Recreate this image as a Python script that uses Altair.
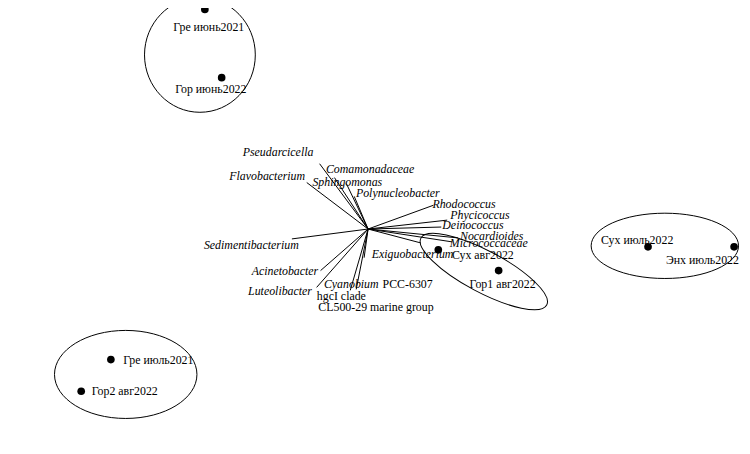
import altair as alt
import pandas as pd

# ---- sites (ordination scores) ----
site_names = ["Гре июнь2021", "Гор июнь2022", "Сух авг2022", "Гор1 авг2022",
              "Сух июль2022", "Энх июль2022", "Гре июль2021", "Гор2 авг2022"]
site_x = [-1.65, -1.48, 0.71, 1.32, 2.83, 3.70, -2.60, -2.90]
site_y = [2.22, 1.53, -0.21, -0.42, -0.18, -0.18, -1.32, -1.64]
site_lab_x = [-1.61, -1.59, 1.16, 1.36, 2.72, 3.38, -2.12, -2.46]
site_lab_y = [2.04, 1.41, -0.26, -0.56, -0.11, -0.31, -1.32, -1.64]

# ---- species vectors ----
sp_names = ["Pseudarcicella", "Comamonadaceae", "Flavobacterium", "Sphingomonas",
            "Polynucleobacter", "Rhodococcus", "Phycicoccus", "Deinococcus",
            "Nocardioides", "Micrococcaceae", "Exiguobacterium", "Sedimentibacterium",
            "Acinetobacter", "Luteolibacter", "Cyanobium PCC-6307", "hgcI clade",
            "CL500-29 marine group"]
sp_x = [-0.49, -0.34, -0.62, -0.22, -0.14, 0.66, 0.80, 0.74, 0.91, 0.85, 0.53,
        -0.77, -0.48, -0.52, -0.04, -0.12, -0.18]
sp_y = [0.66, 0.52, 0.47, 0.46, 0.33, 0.24, 0.09, 0.02, -0.09, -0.13, -0.14,
        -0.10, -0.42, -0.59, -0.29, -0.61, -0.62]

# species labels (text pieces, italic or upright)
lab_text = ["Pseudarcicella", "Comamonadaceae", "Flavobacterium", "Sphingomonas",
            "Polynucleobacter", "Rhodococcus", "Phycicoccus", "Deinococcus",
            "Nocardioides", "Micrococcaceae", "Exiguobacterium", "Sedimentibacterium",
            "Acinetobacter", "Luteolibacter", "Cyanobium", "PCC-6307", "hgcI clade",
            "CL500-29 marine group"]
lab_x = [-0.91, 0.02, -1.02, -0.21, 0.30, 0.97, 1.13, 1.06, 1.25, 1.22, 0.45,
         -1.18, -0.84, -0.89, -0.17, 0.40, -0.27, 0.08]
lab_y = [0.78, 0.61, 0.54, 0.47, 0.36, 0.25, 0.14, 0.04, -0.07, -0.14, -0.25,
         -0.16, -0.42, -0.63, -0.56, -0.56, -0.68, -0.79]
lab_italic = [True] * 15 + [False, False, False]

# ---- group ellipses ----
ell_group = ["g1", "g2", "g3", "g4"]
ell_cx = [-1.70, 1.17, 3.00, -2.45]
ell_cy = [1.76, -0.43, -0.17, -1.47]
ell_a = [0.56, 0.72, 0.745, 0.72]   # semi-axis along x (before rotation)
ell_b = [0.58, 0.21, 0.33, 0.445]   # semi-axis along y
ell_angle = [0, 28, 0, 0]           # degrees, clockwise on screen

W, H = 742, 446
xdom = [-3.64, 3.78]
ydom = [-2.25, 2.21]
px_per_unit = W / (xdom[1] - xdom[0])

xs = alt.Scale(domain=xdom, nice=False, zero=False)
ys = alt.Scale(domain=ydom, nice=False, zero=False)

sites = pd.DataFrame({"name": site_names, "x": site_x, "y": site_y,
                      "lx": site_lab_x, "ly": site_lab_y})
species = pd.DataFrame({"name": sp_names, "x": sp_x, "y": sp_y,
                        "x0": [0.0] * len(sp_x), "y0": [0.0] * len(sp_x)})
labels = pd.DataFrame({"text": lab_text, "x": lab_x, "y": lab_y, "italic": lab_italic})

paths, sizes = [], []
for a, b in zip(ell_a, ell_b):
    R = max(a, b)
    ra, rb = a / R, b / R
    paths.append(f"M {-ra} 0 A {ra} {rb} 0 1 0 {ra} 0 A {ra} {rb} 0 1 0 {-ra} 0 Z")
    sizes.append((2 * R * px_per_unit) ** 2)
ells = pd.DataFrame({"g": ell_group, "x": ell_cx, "y": ell_cy,
                     "size": sizes, "angle": ell_angle})

base_x = alt.X("x:Q", scale=xs, axis=None)
base_y = alt.Y("y:Q", scale=ys, axis=None)

arrows = alt.Chart(species).mark_rule(color="black", strokeWidth=1).encode(
    x=alt.X("x0:Q", scale=xs, axis=None), y=alt.Y("y0:Q", scale=ys, axis=None),
    x2="x:Q", y2="y:Q")

ellipse_layer = alt.Chart(ells).mark_point(filled=False, color="black",
                                           strokeWidth=1, opacity=1).encode(
    x=base_x, y=base_y,
    shape=alt.Shape("g:N", scale=alt.Scale(domain=ell_group, range=paths), legend=None),
    size=alt.Size("size:Q", scale=None),
    angle=alt.Angle("angle:Q", scale=None))

points = alt.Chart(sites).mark_circle(color="black", size=60, opacity=1).encode(
    x=base_x, y=base_y)

site_text = alt.Chart(sites).mark_text(font="Liberation Serif", fontSize=12,
                                       color="black").encode(
    x=alt.X("lx:Q", scale=xs, axis=None), y=alt.Y("ly:Q", scale=ys, axis=None),
    text="name:N")

sp_text_it = alt.Chart(labels).transform_filter("datum.italic").mark_text(
    font="Liberation Serif", fontSize=12, fontStyle="italic", color="black").encode(
    x=base_x, y=base_y, text="text:N")
sp_text_up = alt.Chart(labels).transform_filter("!datum.italic").mark_text(
    font="Liberation Serif", fontSize=12, color="black").encode(
    x=base_x, y=base_y, text="text:N")

chart = alt.layer(ellipse_layer, arrows, points, site_text, sp_text_it, sp_text_up).properties(
    width=W, height=H, padding=0,
    autosize=alt.AutoSizeParams(type="none"),
    background="white",
).configure_view(stroke=None)

chart.save("out.html", embed_options={"renderer": "svg", "actions": False})
